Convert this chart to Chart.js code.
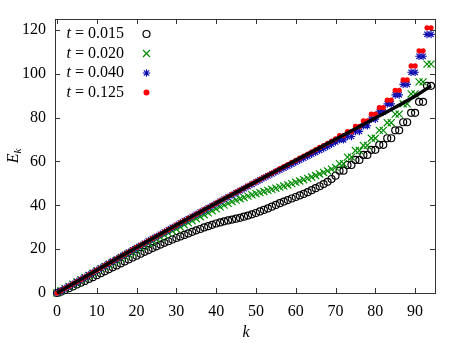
<!DOCTYPE html>
<html>
<head>
<meta charset="utf-8">
<script src="https://cdn.jsdelivr.net/npm/chart.js@4.4.0/dist/chart.umd.min.js"></script>
<style>
  html, body { margin: 0; padding: 0; background: #fff; }
  #myChart { display: block; }
</style>
</head>
<body>
<canvas id="myChart" width="463" height="343"></canvas>
<script>
// wavenumbers k
const ks = [
  0, 1, 2, 3, 4, 5, 6, 7, 8, 9,
  10, 11, 12, 13, 14, 15, 16, 17, 18, 19,
  20, 21, 22, 23, 24, 25, 26, 27, 28, 29,
  30, 31, 32, 33, 34, 35, 36, 37, 38, 39,
  40, 41, 42, 43, 44, 45, 46, 47, 48, 49,
  50, 51, 52, 53, 54, 55, 56, 57, 58, 59,
  60, 61, 62, 63, 64, 65, 66, 67, 68, 69,
  70, 71, 72, 73, 74, 75, 76, 77, 78, 79,
  80, 81, 82, 83, 84, 85, 86, 87, 88, 89,
  90, 91, 92, 93, 94
];

// E_k for t = 0.015
const e015 = [
  0, 0.6, 1.4, 2.2, 3.0, 3.9, 4.7, 5.5, 6.4, 7.2,
  8.1, 9.0, 9.9, 10.8, 11.7, 12.6, 13.5, 14.4, 15.3, 16.2,
  17.0, 17.9, 18.8, 19.6, 20.5, 21.3, 22.1, 22.9, 23.6, 24.4,
  25.1, 25.8, 26.5, 27.2, 27.9, 28.6, 29.2, 29.9, 30.5, 31.1,
  31.7, 32.2, 32.7, 33.1, 33.5, 33.9, 34.3, 34.8, 35.3, 35.9,
  36.5, 37.2, 37.9, 38.6, 39.4, 40.2, 41.0, 41.7, 42.4, 43.1,
  43.8, 44.5, 45.2, 46.0, 46.9, 47.8, 48.7, 49.7, 50.7, 52.0,
  53.5, 55.8, 55.8, 58.4, 58.4, 60.7, 60.7, 63.0, 63.0, 65.3,
  65.3, 67.6, 67.6, 70.6, 70.6, 74.2, 74.2, 77.9, 77.9, 82.2,
  82.2, 87.2, 87.2, 94.5, 94.5
];

// E_k for t = 0.020
const e020 = [
  0, 1.0, 2.0, 3.0, 4.0, 5.0, 6.0, 7.0, 8.0, 9.0,
  10.0, 11.0, 11.9, 12.9, 13.9, 14.8, 15.8, 16.7, 17.7, 18.6,
  19.7, 20.7, 21.6, 22.6, 23.5, 24.5, 25.4, 26.4, 27.3, 28.3,
  29.2, 30.1, 31.1, 32.0, 32.9, 33.9, 34.8, 35.7, 36.6, 37.5,
  38.4, 39.3, 40.1, 40.9, 41.7, 42.4, 43.0, 43.6, 44.2, 44.8,
  45.3, 45.8, 46.3, 46.8, 47.3, 47.8, 48.3, 48.8, 49.3, 49.9,
  50.5, 51.1, 51.7, 52.3, 52.9, 53.6, 54.3, 55.0, 55.7, 56.5,
  57.3, 59.0, 59.0, 62.0, 62.0, 65.0, 65.0, 67.3, 67.3, 70.6,
  70.6, 74.2, 74.2, 77.7, 77.7, 81.6, 81.6, 86.3, 86.3, 90.8,
  90.8, 96.3, 96.3, 104.4, 104.4
];

// E_k for t = 0.040
const e040 = [
  0, 1.0, 2.1, 3.1, 4.1, 5.2, 6.2, 7.2, 8.3, 9.3,
  10.4, 11.4, 12.4, 13.5, 14.5, 15.5, 16.6, 17.6, 18.6, 19.7,
  20.7, 21.7, 22.7, 23.8, 24.8, 25.8, 26.8, 27.8, 28.8, 29.9,
  30.9, 31.9, 32.9, 33.9, 34.9, 35.9, 36.9, 37.8, 38.8, 39.8,
  40.8, 41.8, 42.8, 43.7, 44.7, 45.7, 46.7, 47.6, 48.6, 49.6,
  50.6, 51.5, 52.5, 53.4, 54.3, 55.2, 56.1, 57.0, 57.9, 58.8,
  59.7, 60.6, 61.5, 62.4, 63.3, 64.2, 65.1, 66.0, 66.9, 67.9,
  68.9, 69.9, 69.9, 71.4, 71.4, 73.7, 73.7, 76.3, 76.3, 79.3,
  79.3, 82.6, 82.6, 86.3, 86.3, 90.4, 90.4, 95.2, 95.2, 100.7,
  100.7, 108.0, 108.0, 118.0, 118.0
];

// E_k for t = 0.125
const e125 = [
  0, 1.0, 2.1, 3.1, 4.2, 5.2, 6.2, 7.3, 8.3, 9.4,
  10.4, 11.4, 12.5, 13.5, 14.6, 15.6, 16.6, 17.7, 18.7, 19.8,
  20.8, 21.8, 22.8, 23.8, 24.9, 25.9, 26.9, 27.9, 28.9, 30.0,
  31.0, 32.0, 33.0, 34.0, 35.0, 36.0, 37.0, 38.0, 39.0, 40.0,
  41.0, 42.0, 43.0, 44.0, 45.0, 46.0, 46.9, 47.9, 48.9, 49.9,
  50.8, 51.8, 52.8, 53.8, 54.7, 55.7, 56.7, 57.7, 58.6, 59.6,
  60.5, 61.5, 62.5, 63.4, 64.4, 65.4, 66.4, 67.3, 68.3, 69.3,
  70.3, 71.8, 71.8, 73.6, 73.6, 76.0, 76.0, 78.5, 78.5, 81.6,
  81.6, 84.6, 84.6, 88.0, 88.0, 92.5, 92.5, 97.2, 97.2, 103.6,
  103.6, 110.5, 110.5, 121.0, 121.0
];

// theory curve
const lineK = [0, 10, 20, 30, 40, 50, 60, 70, 80, 90, 94];
const lineE = [0, 10.4, 20.8, 31.0, 41.0, 50.8, 60.5, 70.1, 79.8, 89.8, 94.5];

const xTicks = [0, 10, 20, 30, 40, 50, 60, 70, 80, 90];
const yTicks = [0, 20, 40, 60, 80, 100, 120];
const labels = ["0.015", "0.020", "0.040", "0.125"];

const FONT = "'Liberation Serif', 'DejaVu Serif', serif";
const GREEN = "#008c00";
const BLUE = "#1010b0";
const RED = "#ff0000";

const pts = (xs, ys) => xs.map((x, i) => ({ x: x, y: ys[i] }));

const drawMarker = (ctx, kind, x, y) => {
  ctx.save();
  ctx.lineWidth = 1.2;
  if (kind === 0) {
    ctx.strokeStyle = "#000";
    ctx.beginPath();
    ctx.arc(x, y, 3.5, 0, Math.PI * 2);
    ctx.stroke();
  } else if (kind === 1) {
    ctx.strokeStyle = GREEN;
    ctx.beginPath();
    ctx.moveTo(x - 3.5, y - 3.5); ctx.lineTo(x + 3.5, y + 3.5);
    ctx.moveTo(x - 3.5, y + 3.5); ctx.lineTo(x + 3.5, y - 3.5);
    ctx.stroke();
  } else if (kind === 2) {
    ctx.strokeStyle = BLUE;
    ctx.beginPath();
    ctx.moveTo(x - 3.8, y); ctx.lineTo(x + 3.8, y);
    ctx.moveTo(x, y - 3.8); ctx.lineTo(x, y + 3.8);
    ctx.moveTo(x - 2.7, y - 2.7); ctx.lineTo(x + 2.7, y + 2.7);
    ctx.moveTo(x - 2.7, y + 2.7); ctx.lineTo(x + 2.7, y - 2.7);
    ctx.stroke();
  } else {
    ctx.fillStyle = RED;
    ctx.beginPath();
    ctx.arc(x, y, 3, 0, Math.PI * 2);
    ctx.fill();
  }
  ctx.restore();
};

const gnuFrame = {
  id: "gnuFrame",
  beforeDatasetsDraw(chart) {
    const { ctx, chartArea: a, scales } = chart;
    ctx.save();
    ctx.strokeStyle = "#333";
    ctx.lineWidth = 1;
    ctx.strokeRect(a.left + 0.5, a.top + 0.5, a.right - a.left, a.bottom - a.top);
    ctx.beginPath();
    xTicks.forEach((v) => {
      const px = Math.round(scales.x.getPixelForValue(v)) + 0.5;
      ctx.moveTo(px, a.bottom); ctx.lineTo(px, a.bottom - 5);
      ctx.moveTo(px, a.top); ctx.lineTo(px, a.top + 5);
    });
    yTicks.forEach((v) => {
      const py = Math.round(scales.y.getPixelForValue(v)) + 0.5;
      ctx.moveTo(a.left, py); ctx.lineTo(a.left + 5, py);
      ctx.moveTo(a.right, py); ctx.lineTo(a.right - 5, py);
    });
    ctx.stroke();
    ctx.restore();
  },
  afterDraw(chart) {
    const { ctx } = chart;
    ctx.save();
    ctx.fillStyle = "#000";
    ctx.textBaseline = "middle";
    // legend
    const rowY = [34, 53.5, 73, 92.5];
    labels.forEach((lab, i) => {
      const rest = " = " + lab;
      ctx.font = "16px " + FONT;
      const wRest = ctx.measureText(rest).width;
      ctx.font = "italic 16px " + FONT;
      const wT = ctx.measureText("t").width;
      const x0 = 124 - wRest - wT;
      ctx.fillText("t", x0, rowY[i]);
      ctx.font = "16px " + FONT;
      ctx.fillText(rest, x0 + wT, rowY[i]);
      drawMarker(ctx, i, 146.5, rowY[i]);
    });
    // x title
    ctx.font = "italic 16px " + FONT;
    ctx.textAlign = "center";
    ctx.fillText("k", 246, 333);
    // y title
    ctx.translate(14, 156);
    ctx.rotate(-Math.PI / 2);
    ctx.textAlign = "left";
    ctx.font = "italic 16px " + FONT;
    const wE = ctx.measureText("E").width;
    ctx.font = "italic 11px " + FONT;
    const wk = ctx.measureText("k").width;
    const start = -(wE + wk) / 2;
    ctx.font = "italic 16px " + FONT;
    ctx.fillText("E", start, 0);
    ctx.font = "italic 11px " + FONT;
    ctx.fillText("k", start + wE, 4);
    ctx.restore();
  },
};

new Chart(document.getElementById("myChart"), {
  type: "scatter",
  data: {
    datasets: [
      {
        label: "theory",
        type: "line",
        data: pts(lineK, lineE),
        borderColor: "#000",
        borderWidth: 3.5,
        pointRadius: 0,
        tension: 0.3,
        order: 0,
        clip: false,
      },
      {
        label: "t = 0.125",
        data: pts(ks, e125),
        pointStyle: "circle",
        pointRadius: 2.6,
        backgroundColor: RED,
        borderWidth: 0,
        order: 1,
        clip: false,
      },
      {
        label: "t = 0.040",
        data: pts(ks, e040),
        pointStyle: "star",
        pointRadius: 3.8,
        borderColor: BLUE,
        backgroundColor: BLUE,
        borderWidth: 1.2,
        order: 2,
        clip: false,
      },
      {
        label: "t = 0.020",
        data: pts(ks, e020),
        pointStyle: "crossRot",
        pointRadius: 5,
        borderColor: GREEN,
        backgroundColor: GREEN,
        borderWidth: 1.2,
        order: 3,
        clip: false,
      },
      {
        label: "t = 0.015",
        data: pts(ks, e015),
        pointStyle: "circle",
        pointRadius: 3.5,
        borderColor: "#000",
        backgroundColor: "rgba(0,0,0,0)",
        borderWidth: 1.2,
        order: 4,
        clip: false,
      },
    ],
  },
  options: {
    responsive: false,
    animation: false,
    devicePixelRatio: 1,
    layout: { padding: { left: 0, right: 28, top: 19, bottom: 0 } },
    plugins: {
      legend: { display: false },
      tooltip: { enabled: false },
    },
    scales: {
      x: {
        type: "linear",
        min: -0.5,
        max: 95,
        afterBuildTicks: (s) => { s.ticks = xTicks.map((v) => ({ value: v })); },
        afterFit: (s) => { s.height = 50; },
        grid: { display: false, drawTicks: false },
        border: { display: false },
        ticks: { padding: 9, color: "#000", font: { family: FONT, size: 16 } },
      },
      y: {
        type: "linear",
        min: 0,
        max: 125,
        afterBuildTicks: (s) => { s.ticks = yTicks.map((v) => ({ value: v })); },
        afterFit: (s) => { s.width = 55; },
        grid: { display: false, drawTicks: false },
        border: { display: false },
        ticks: { padding: 9, color: "#000", font: { family: FONT, size: 16 } },
      },
    },
  },
  plugins: [gnuFrame],
});
</script>
</body>
</html>
